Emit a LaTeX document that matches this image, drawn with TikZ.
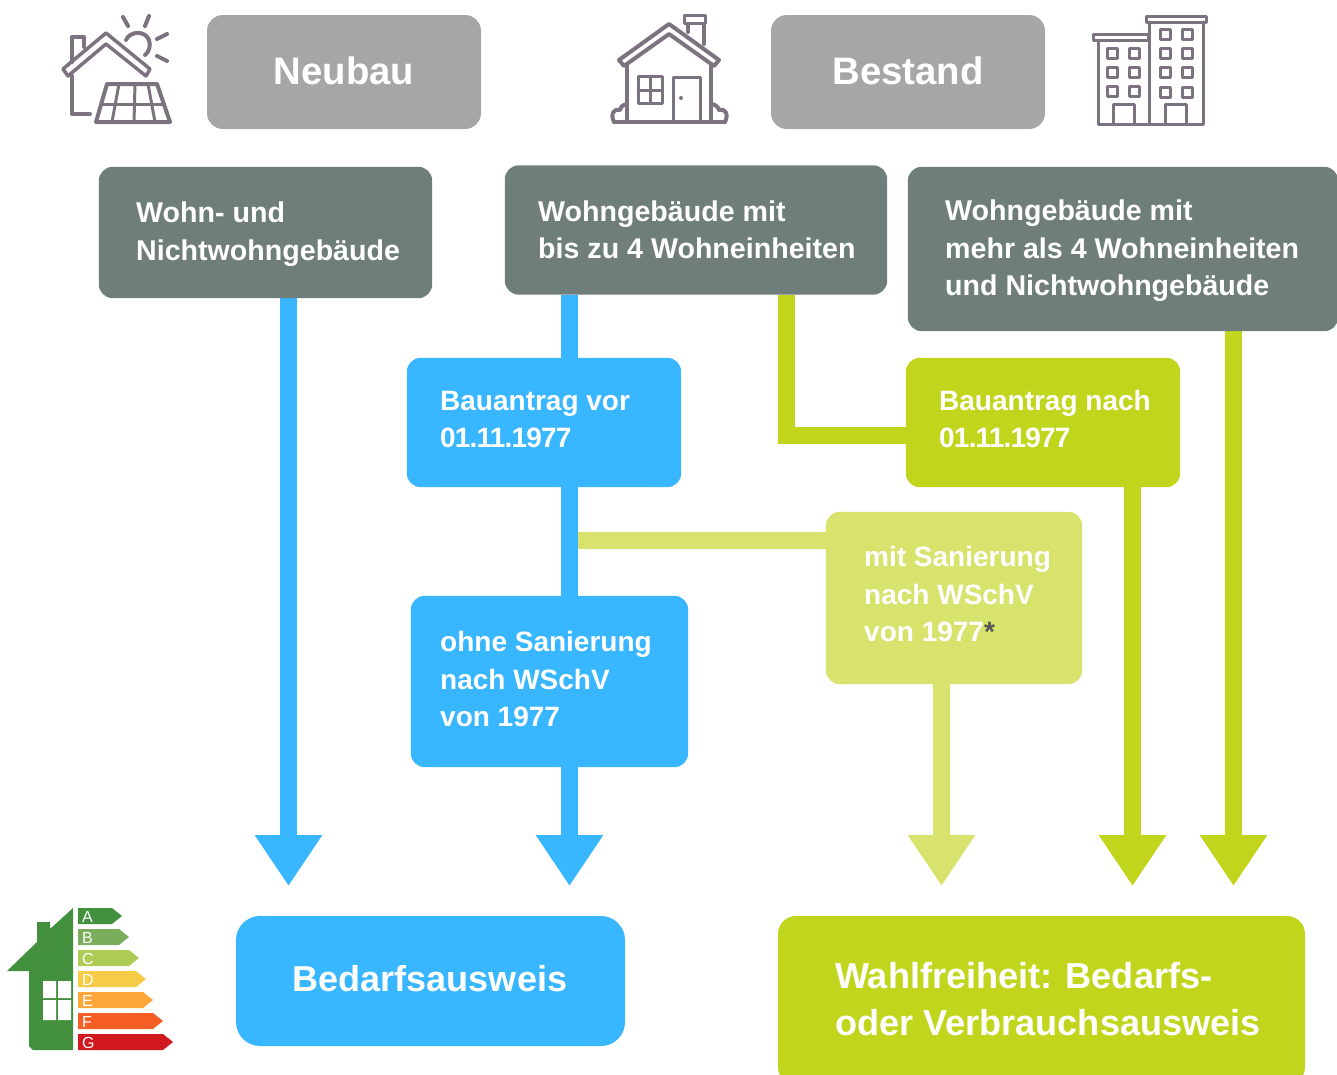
\documentclass[tikz,border=0pt]{standalone}
\usepackage{fontspec}
\setmainfont{Liberation Sans}
\usetikzlibrary{arrows.meta}
\definecolor{cgrey}{HTML}{A6A6A6}
\definecolor{cslate}{HTML}{6F7E7A}
\definecolor{cblue}{HTML}{38B6FF}
\definecolor{clime}{HTML}{C1D51D}
\definecolor{cpale}{HTML}{D7E36D}
\definecolor{cicon}{HTML}{7D7280}
\definecolor{chouse}{HTML}{43903F}
\definecolor{cstar}{HTML}{555555}
\newcommand{\tightdate}{{\addfontfeature{LetterSpace=-2.9}01.11.1977}}
\tikzset{
 x=1pt,y=-1pt,
 lbl/.style={text=white,anchor=west,inner sep=0pt,align=left,font=\fontsize{28.6}{37.5}\selectfont\bfseries},
 lblb/.style={lbl,font=\fontsize{28}{37.5}\selectfont\bfseries},
 big/.style={text=white,inner sep=0pt,font=\fontsize{38.3}{44}\selectfont\bfseries},
 bigb/.style={big,font=\fontsize{36.1}{47}\selectfont\bfseries},
 ico/.style={draw=cicon,line width=4pt,line join=round,line cap=round},
 flow/.style={line width=17pt},
 flowtip/.style={flow,-{Triangle[width=64pt,length=51pt]}},
 slot/.style={inner sep=0pt},
}
\begin{document}
\begin{tikzpicture}
\useasboundingbox (0,0) rectangle (1337,1074);
\coordinate (e1) at (288.5,886);
\coordinate (e2) at (569.5,886);
\coordinate (e3) at (941.5,886);
\coordinate (e4) at (1132.5,886);
\coordinate (e5) at (1233.5,886);
\coordinate (b1) at (786.5,435);
\coordinate (b2) at (569.5,540);
\node[slot,minimum width=333pt,minimum height=131pt] (wohn) at (265.5,232.5) {};
\node[slot,minimum width=382pt,minimum height=129pt] (bis) at (696,230) {};
\node[slot,minimum width=430pt,minimum height=164pt] (mehr) at (1123,249) {};
\node[slot,minimum width=274pt,minimum height=129pt] (vor) at (544,422.5) {};
\node[slot,minimum width=274pt,minimum height=129pt] (nach) at (1043,422.5) {};
\node[slot,minimum width=256pt,minimum height=172pt] (mit) at (954,598) {};
\node[slot,minimum width=277pt,minimum height=171pt] (ohne) at (549.5,681.5) {};
% connectors
\draw[flow,cpale] (b2) -- (mit.west |- b2);
\draw[flowtip,cpale] (e3 |- mit.south) -- (e3);
\draw[flowtip,cblue] (e1 |- wohn.south) -- (e1);
\draw[flow,cblue] (e2 |- bis.south) -- (e2 |- vor.north);
\draw[flow,cblue] (e2 |- vor.south) -- (e2 |- ohne.north);
\draw[flowtip,cblue] (e2 |- ohne.south) -- (e2);
\draw[flow,clime] (b1 |- bis.south) -- (b1) -- (nach.west |- b1);
\draw[flowtip,clime] (e4 |- nach.south) -- (e4);
\draw[flowtip,clime] (e5 |- mehr.south) -- (e5);
% boxes
\fill[cgrey,rounded corners=16pt] (207,15) rectangle (481,129);
\node[big] (neu) at (344,71) {Neubau};
\fill[cgrey,rounded corners=16pt] (771,15) rectangle (1045,129);
\node[big] (bes) at (908,71) {Bestand};
\fill[cslate,rounded corners=14pt] (wohn.north west) rectangle (wohn.south east);
\fill[cslate,rounded corners=14pt] (bis.north west) rectangle (bis.south east);
\fill[cslate,rounded corners=14pt] (mehr.north west) rectangle (mehr.south east);
\fill[cblue,rounded corners=14pt] (vor.north west) rectangle (vor.south east);
\fill[clime,rounded corners=14pt] (nach.north west) rectangle (nach.south east);
\fill[cpale,rounded corners=14pt] (mit.north west) rectangle (mit.south east);
\fill[cblue,rounded corners=14pt] (ohne.north west) rectangle (ohne.south east);
\fill[cblue,rounded corners=24pt] (236,916) rectangle (625,1046);
\fill[clime,rounded corners=18pt] (778,916) rectangle (1305,1085);
% labels
\node[lbl] (t1) at (136,234) {Wohn- und\\Nichtwohngebäude};
\node[lbl] (t2) at (538,230) {Wohngebäude mit\\bis zu 4 Wohneinheiten};
\node[lbl] (t3) at (945,251) {Wohngebäude mit\\mehr als 4 Wohneinheiten\\und Nichtwohngebäude};
\node[lblb] (t4) at (440,419.5) {Bauantrag vor\\\tightdate};
\node[lblb] (t5) at (939,419) {Bauantrag nach\\\tightdate};
\node[lblb] (t6) at (864,594) {mit Sanierung\\nach WSchV\\von 1977{\color{cstar}*}};
\node[lblb] (t7) at (440,679) {ohne Sanierung\\nach WSchV\\von 1977};
\node[big,font=\fontsize{36}{44}\selectfont\bfseries] (bed) at (430,979) {Bedarfsausweis};
\node[bigb,anchor=west,align=left] (wahl) at (835,999) {Wahlfreiheit: Bedarfs-\\oder Verbrauchsausweis};
% icon: solar house
\begin{scope}[ico]
\draw (72,62) -- (72,37) -- (84,37) -- (84,47);
\draw[line width=3.5pt] (63,69) -- (106,33) -- (150,69) -- (146,76) -- (106,44) -- (68,76) -- cycle;
\draw (72,76) -- (72,114) -- (90,114);
\draw (107,84) -- (157,84) -- (170,122) -- (96,122) -- cycle;
\draw[line width=3pt] (101,104) -- (164,104);
\draw[line width=3pt] (119,84) -- (112,122) (135,84) -- (134,122) (148,84) -- (155,122);
\draw (126,40) .. controls (130,31) and (145,30) .. (149,40) .. controls (151,46) and (149,52) .. (145,55);
\draw (123,17) -- (128,26) (149,16) -- (145,26) (157,39) -- (167,34) (157,56) -- (167,61);
\end{scope}
% icon: house
\begin{scope}[ico]
\draw (619,60) -- (669,24) -- (719,60) -- (714,66) -- (669,34) -- (624,66) -- cycle;
\draw (627,66) -- (627,122) (711,66) -- (711,122);
\draw (614,122) -- (725,122);
\draw (614,122) .. controls (610,114) and (614,108) .. (620,110) .. controls (621,106) and (624,104) .. (627,104);
\draw (725,122) .. controls (729,114) and (725,108) .. (719,110) .. controls (718,106) and (714,104) .. (711,104);
\draw (688,24) -- (688,32) (704,24) -- (704,44);
\draw[line width=3pt] (684,15) rectangle (705,23);
\draw[line width=3pt] (638,76) rectangle (662,103) (650,76) -- (650,103) (638,90) -- (662,90);
\draw[line width=3pt] (673,122) -- (673,77) -- (700,77) -- (700,122);
\fill[cicon,draw=none] (681,98) circle (2pt);
\end{scope}
% icon: buildings
\begin{scope}[ico,line width=3pt]
\draw (1146,16) rectangle (1206,22);
\draw (1093,34) rectangle (1148,40);
\draw (1098,40) -- (1098,124) -- (1203,124) -- (1203,22);
\draw (1149,22) -- (1149,124);
\foreach \x/\y in {1107/48,1129/48,1107/67,1129/67,1107/86,1129/86,1160/29,1182/29,1160/48,1182/48,1160/67,1182/67,1160/87,1182/87}
  \draw (\x,\y) rectangle ++(10,10);
\draw (1113,124) -- (1113,104) -- (1134,104) -- (1134,124);
\draw (1165,124) -- (1165,104) -- (1186,104) -- (1186,124);
\end{scope}
% icon: energy label
\fill[chouse] (7,971) -- (37,942) -- (37,922) -- (50,922) -- (50,929) -- (73,908) -- (73,1050) -- (33,1050) -- (29,1046) -- (29,971) -- cycle;
\fill[white] (43,981) rectangle (56,998) (58,981) rectangle (71,998) (43,1000) rectangle (56,1020) (58,1000) rectangle (71,1020);
\foreach \y/\t/\xe/\c in {908/A/122/43903F,929/B/129/7CAD5C,950/C/139/AECB55,971/D/146/F5CB47,992/E/153/FDA63A,1013/F/163/F55E25,1034/G/173/D2181F}{
  \definecolor{tmpc}{HTML}{\c}
  \fill[tmpc] (78,\y) -- (\xe-10,\y) -- (\xe,\y+8) -- (\xe-10,\y+16) -- (78,\y+16) -- cycle;
  \node[text=white,font=\fontsize{16}{16}\selectfont,inner sep=0pt,anchor=west] at (82,\y+8.5) {\t};
}
\end{tikzpicture}
\end{document}
